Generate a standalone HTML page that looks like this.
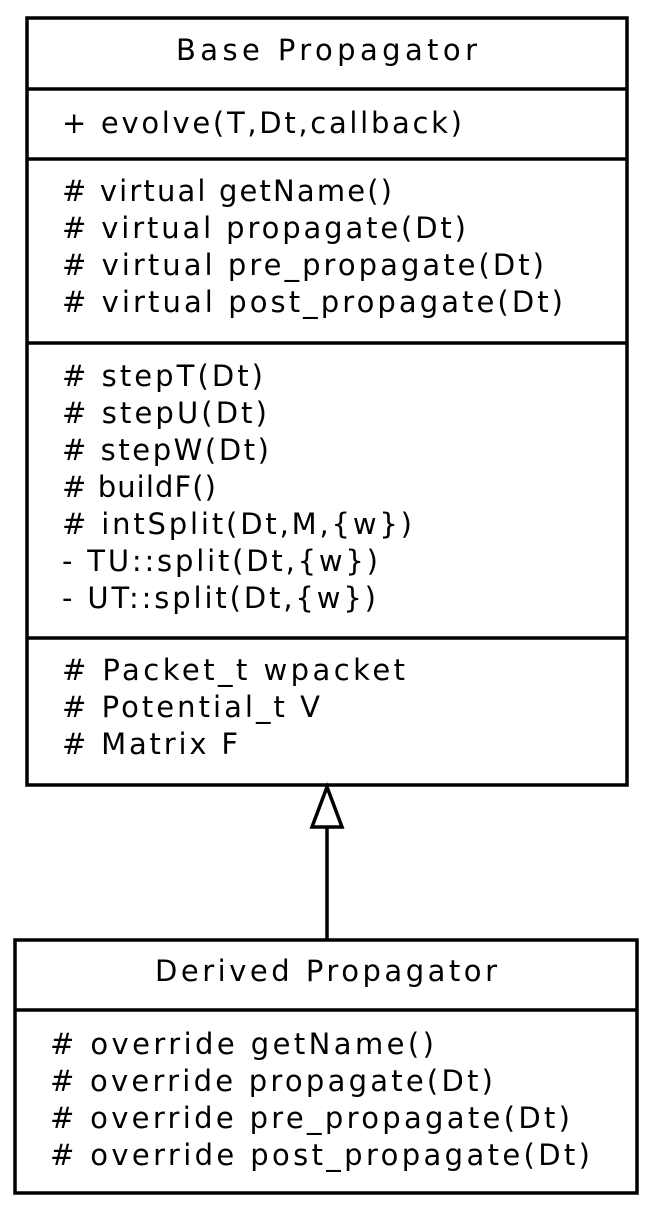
<!DOCTYPE html>
<html><head><meta charset="utf-8"><style>html,body{margin:0;padding:0;background:#fff}svg{display:block}text{font-family:"DejaVu Sans",sans-serif;font-size:29px;fill:#000}</style></head>
<body>
<svg width="654" height="1213" viewBox="0 0 654 1213" xmlns="http://www.w3.org/2000/svg">
<g stroke="#000" stroke-width="3.5" fill="none">
<rect x="27" y="18" width="600" height="767"/>
<line x1="27" y1="89" x2="627" y2="89"/>
<line x1="27" y1="159" x2="627" y2="159"/>
<line x1="27" y1="343" x2="627" y2="343"/>
<line x1="27" y1="638" x2="627" y2="638"/>
<rect x="15" y="940" width="622" height="253"/>
<line x1="15" y1="1010" x2="637" y2="1010"/>
<line x1="327" y1="827" x2="327" y2="940"/>
<polygon points="327,787 312,827 342,827" fill="#fff"/>
</g>
<text x="176" y="60" textLength="301" lengthAdjust="spacing">Base Propagator</text>
<text x="62" y="133" textLength="400" lengthAdjust="spacing">+ evolve(T,Dt,callback)</text>
<text x="62" y="201" textLength="330" lengthAdjust="spacing"># virtual getName()</text>
<text x="62" y="238" textLength="404" lengthAdjust="spacing"># virtual propagate(Dt)</text>
<text x="62" y="275" textLength="482" lengthAdjust="spacing"># virtual pre_propagate(Dt)</text>
<text x="62" y="312" textLength="501" lengthAdjust="spacing"># virtual post_propagate(Dt)</text>
<text x="62" y="386" textLength="201" lengthAdjust="spacing"># stepT(Dt)</text>
<text x="62" y="423" textLength="205" lengthAdjust="spacing"># stepU(Dt)</text>
<text x="62" y="460" textLength="207" lengthAdjust="spacing"># stepW(Dt)</text>
<text x="62" y="497" textLength="154" lengthAdjust="spacing"># buildF()</text>
<text x="62" y="534" textLength="350" lengthAdjust="spacing"># intSplit(Dt,M,{w})</text>
<text x="62" y="571" textLength="316" lengthAdjust="spacing">- TU::split(Dt,{w})</text>
<text x="62" y="608" textLength="314" lengthAdjust="spacing">- UT::split(Dt,{w})</text>
<text x="62" y="680" textLength="343" lengthAdjust="spacing"># Packet_t wpacket</text>
<text x="62" y="717" textLength="258" lengthAdjust="spacing"># Potential_t V</text>
<text x="62" y="754" textLength="176" lengthAdjust="spacing"># Matrix F</text>
<text x="155" y="981" textLength="342" lengthAdjust="spacing">Derived Propagator</text>
<text x="50" y="1054" textLength="384" lengthAdjust="spacing"># override getName()</text>
<text x="50" y="1091" textLength="443" lengthAdjust="spacing"># override propagate(Dt)</text>
<text x="50" y="1128" textLength="520" lengthAdjust="spacing"># override pre_propagate(Dt)</text>
<text x="50" y="1165" textLength="540" lengthAdjust="spacing"># override post_propagate(Dt)</text>
</svg>
</body></html>
